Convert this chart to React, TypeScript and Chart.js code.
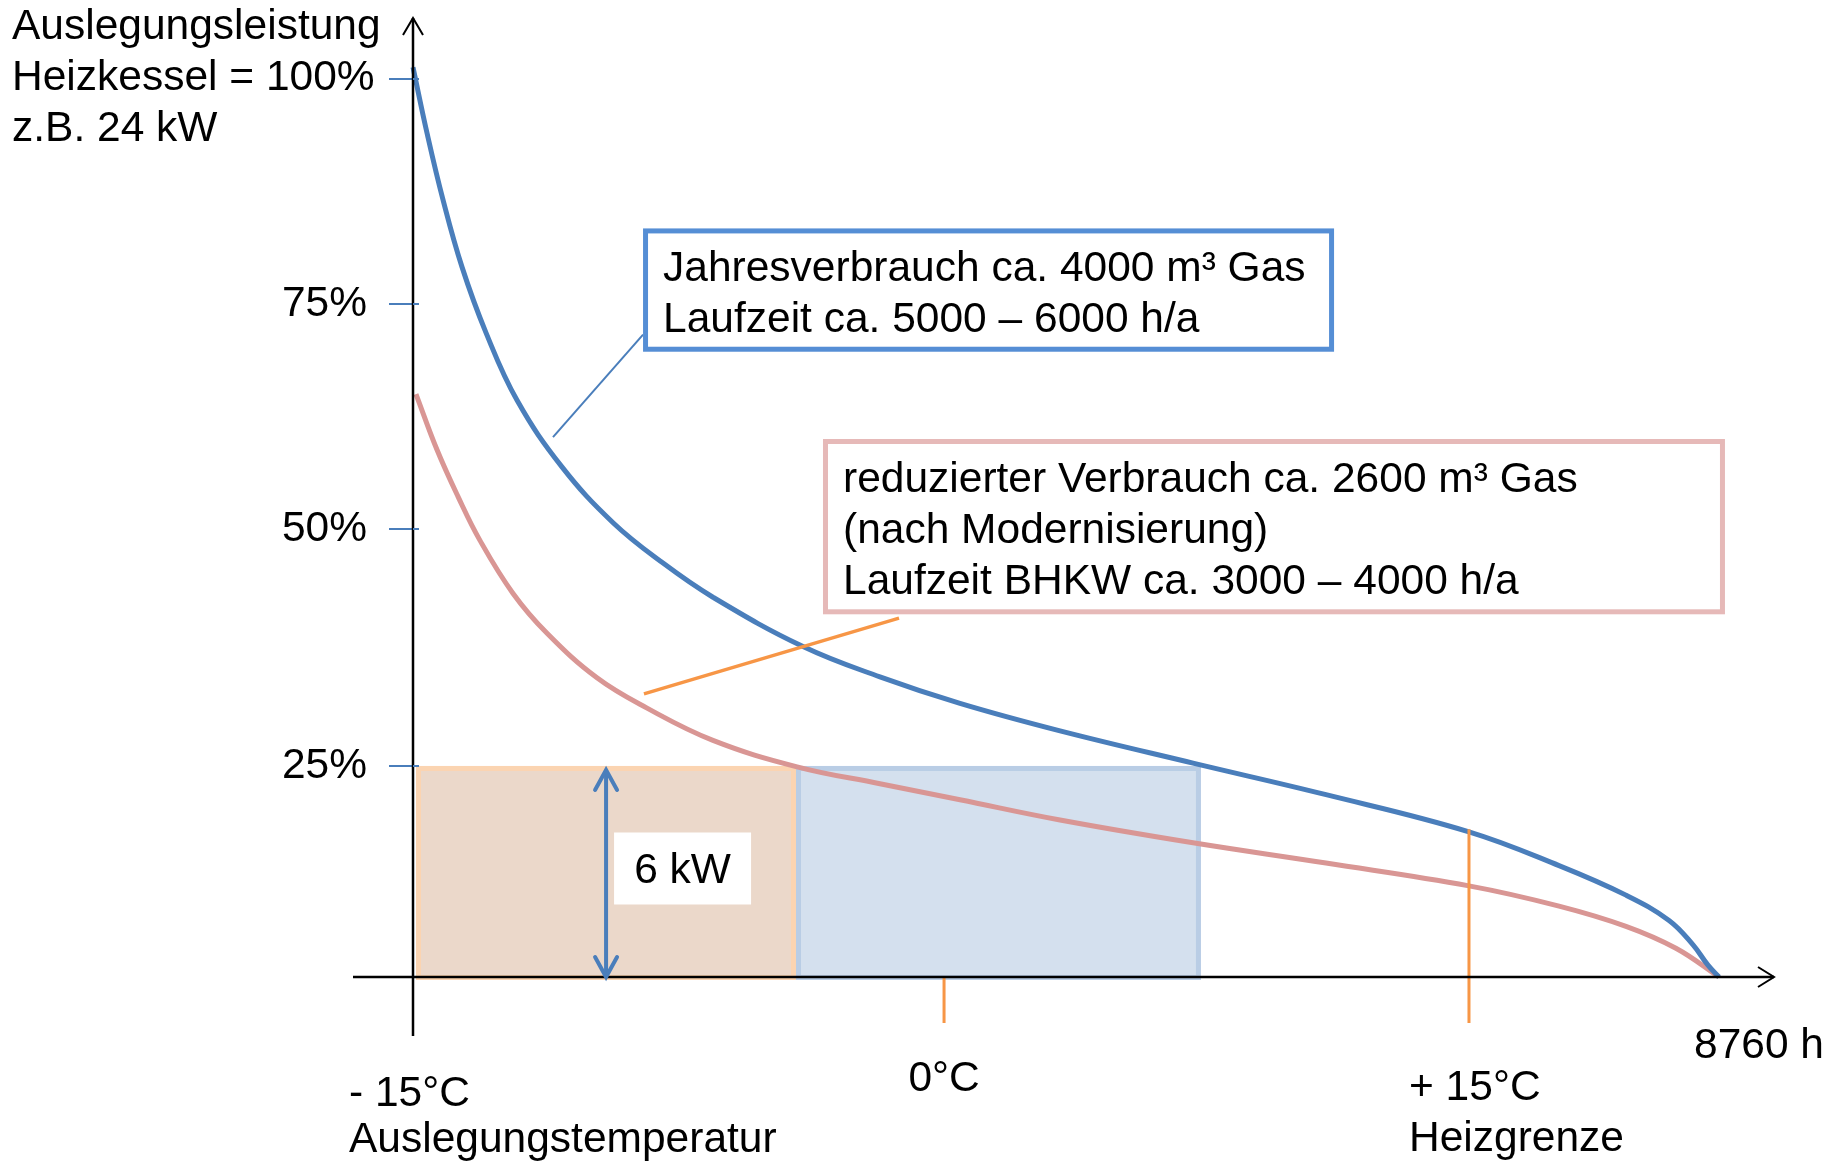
import React, { useEffect, useRef } from 'react';
import { Chart, registerables, LinearScale } from 'chart.js';

// The hand-drawn original spaces its percentage ticks slightly unevenly;
// this scale places 0/25/50/75/100 % where the original does and is linear in between.
const KNEE_VALUES = [0, 25, 50, 75, 100];
const KNEE_POS = [0, 0.235, 0.4989, 0.7494, 1];

class KneeScale extends LinearScale {
  static id = 'knee';
  getPixelForValue(value: any) {
    if (value === null || value === undefined || isNaN(value)) return NaN;
    const v = Number(value);
    let i = 0;
    while (i < KNEE_VALUES.length - 2 && v > KNEE_VALUES[i + 1]) i++;
    const t = (v - KNEE_VALUES[i]) / (KNEE_VALUES[i + 1] - KNEE_VALUES[i]);
    const d = KNEE_POS[i] + t * (KNEE_POS[i + 1] - KNEE_POS[i]);
    return (this as any).getPixelForDecimal(d);
  }
}

Chart.register(...registerables, KneeScale as any);

const FONT = "'Liberation Sans', Arial, Helvetica, sans-serif";
const FS = 42.5;

// ---- data (hours of the year vs. share of design load in %) ----
const hoursBlue = [0, 94, 201, 329, 490, 698, 999, 1342, 1677, 2012, 2616, 3132, 3669, 4340, 5232, 6124, 7083, 7687, 8136, 8425, 8586, 8686, 8760];
const loadBlue = [101.3, 94.0, 86.6, 79.1, 71.8, 64.3, 56.9, 50.7, 46.4, 42.8, 37.6, 34.4, 31.6, 28.7, 25.3, 21.6, 17.2, 13.2, 9.7, 6.7, 3.8, 1.4, 0];

const hoursRed = [20, 161, 302, 449, 671, 899, 1234, 1570, 2012, 2576, 3132, 3669, 4340, 5232, 6124, 7083, 7687, 8136, 8471, 8760];
const loadRed = [65.0, 58.8, 53.6, 48.8, 43.2, 39.0, 34.3, 31.1, 27.7, 24.9, 22.9, 21.0, 18.6, 15.9, 13.5, 10.8, 8.4, 6.0, 3.4, 0];

const yTickValues = [0, 25, 50, 75, 100];
const yTickLabels = ['', '25%', '50%', '75%', ''];
const yAxisTitle = ['Auslegungsleistung', 'Heizkessel = 100%', 'z.B. 24 kW'];
const hoursPerYear = 8760;
const endLabel = '8760 h';

const tempHours = [0, 3562, 7083];
const tempLabels = [['- 15°C', 'Auslegungstemperatur'], ['0°C'], ['+ 15°C', 'Heizgrenze']];
const heizgrenzeTop = 17.5;

const bandFrom = [0, 2569];
const bandTo = [2569, 5285];
const bandLevel = [25, 25];
const bhkwArrowHour = 1295;
const bhkwLabel = '6 kW';

const calloutBlue = ['Jahresverbrauch ca. 4000 m³ Gas', 'Laufzeit ca. 5000 – 6000 h/a'];
const calloutRed = ['reduzierter Verbrauch ca. 2600 m³ Gas', '(nach Modernisierung)', 'Laufzeit BHKW ca. 3000 – 4000 h/a'];

// ---- layout / style (not data) ----
const BLUE = '#4A7EBB';
const RED = '#D99694';
const ORANGE = '#F79646';
const LAYOUT = {
  blueBox: { h0: 1543, p0: 83.4, h1: 6178, p1: 69.7 },
  redBox: { h0: 2750, p0: 60.0, h1: 8800, p1: 41.0 },
  blueLeader: [[939, 60.2], [1543, 71.6]],
  redLeader: [[1549, 32.6], [3260, 40.6]],
};
const BAND_STYLE = [
  { fill: '#EBD8CA', stroke: '#FBD4B1' },
  { fill: '#D4E0EE', stroke: '#B9CDE5' },
];

function openHead(ctx: CanvasRenderingContext2D, tx: number, ty: number, ux: number, uy: number, len: number, half: number) {
  const bx = tx - ux * len;
  const by = ty - uy * len;
  const nx = -uy;
  const ny = ux;
  ctx.beginPath();
  ctx.moveTo(bx + nx * half, by + ny * half);
  ctx.lineTo(tx, ty);
  ctx.lineTo(bx - nx * half, by - ny * half);
  ctx.stroke();
}

const overlay = {
  id: 'overlay',
  beforeDatasetsDraw(chart: any) {
    const { ctx } = chart;
    const x = chart.scales.x;
    const y = chart.scales.y;
    ctx.save();
    for (let i = bandFrom.length - 1; i >= 0; i--) {
      const st = BAND_STYLE[i];
      const l = x.getPixelForValue(bandFrom[i]) + (i === 0 ? 3 : 0);
      const r = x.getPixelForValue(bandTo[i]);
      const t = y.getPixelForValue(bandLevel[i]);
      const b = y.getPixelForValue(0) + 3;
      ctx.fillStyle = st.fill;
      ctx.fillRect(l, t, r - l, b - t);
      ctx.strokeStyle = st.stroke;
      ctx.lineWidth = 5;
      ctx.strokeRect(l + 2.5, t + 2.5, r - l - 5, b - t - 5);
    }
    ctx.restore();
  },
  afterDatasetsDraw(chart: any) {
    const { ctx, chartArea } = chart;
    const x = chart.scales.x;
    const y = chart.scales.y;
    const px = (h: number) => x.getPixelForValue(h);
    const py = (p: number) => y.getPixelForValue(p);
    const x0 = px(0);
    const y0 = py(0);
    ctx.save();
    ctx.lineCap = 'butt';

    // orange temperature markers
    ctx.strokeStyle = ORANGE;
    ctx.lineWidth = 3;
    ctx.beginPath();
    ctx.moveTo(px(tempHours[1]), y0);
    ctx.lineTo(px(tempHours[1]), y0 + 46);
    ctx.moveTo(px(tempHours[2]), py(heizgrenzeTop));
    ctx.lineTo(px(tempHours[2]), y0 + 46);
    ctx.stroke();

    // axes
    ctx.strokeStyle = '#000';
    ctx.lineWidth = 2.5;
    ctx.beginPath();
    ctx.moveTo(x0, chartArea.top - 61);
    ctx.lineTo(x0, y0 + 59);
    ctx.moveTo(x0 - 60, y0);
    ctx.lineTo(chartArea.right + 55, y0);
    ctx.stroke();
    ctx.lineWidth = 2;
    openHead(ctx, x0, chartArea.top - 61, 0, -1, 17, 10);
    openHead(ctx, chartArea.right + 55, y0, 1, 0, 16, 10);

    // small inner part of y ticks
    ctx.strokeStyle = BLUE;
    ctx.lineWidth = 2;
    ctx.beginPath();
    yTickValues.forEach((v) => {
      if (v === 0) return;
      ctx.moveTo(x0, py(v));
      ctx.lineTo(x0 + 6, py(v));
    });
    ctx.stroke();

    // leader lines
    ctx.strokeStyle = ORANGE;
    ctx.lineWidth = 3.5;
    ctx.beginPath();
    ctx.moveTo(px(LAYOUT.redLeader[0][0]), py(LAYOUT.redLeader[0][1]));
    ctx.lineTo(px(LAYOUT.redLeader[1][0]), py(LAYOUT.redLeader[1][1]));
    ctx.stroke();
    ctx.strokeStyle = BLUE;
    ctx.lineWidth = 2;
    ctx.beginPath();
    ctx.moveTo(px(LAYOUT.blueLeader[0][0]), py(LAYOUT.blueLeader[0][1]));
    ctx.lineTo(px(LAYOUT.blueLeader[1][0]), py(LAYOUT.blueLeader[1][1]));
    ctx.stroke();

    ctx.font = `${FS}px ${FONT}`;
    ctx.textBaseline = 'alphabetic';

    // callout boxes
    const box = (b: any, lines: string[], color: string) => {
      const l = px(b.h0);
      const r = px(b.h1);
      const t = py(b.p0);
      const bt = py(b.p1);
      ctx.fillStyle = '#fff';
      ctx.fillRect(l, t, r - l, bt - t);
      ctx.strokeStyle = color;
      ctx.lineWidth = 5;
      ctx.strokeRect(l + 2.5, t + 2.5, r - l - 5, bt - t - 5);
      ctx.fillStyle = '#000';
      ctx.textAlign = 'left';
      lines.forEach((s, i) => ctx.fillText(s, l + 20, t + 53 + i * 51));
    };
    box(LAYOUT.blueBox, calloutBlue, '#558ED5');
    box(LAYOUT.redBox, calloutRed, '#E6B9B8');

    // 6 kW double arrow
    const ax = px(bhkwArrowHour);
    const aTop = py(bandLevel[0]) + 4;
    ctx.strokeStyle = BLUE;
    ctx.lineWidth = 4;
    ctx.beginPath();
    ctx.moveTo(ax, aTop + 2);
    ctx.lineTo(ax, y0 - 2);
    ctx.stroke();
    ctx.lineCap = 'round';
    openHead(ctx, ax, aTop, 0, -1, 20, 11);
    openHead(ctx, ax, y0, 0, 1, 20, 11);
    ctx.lineCap = 'butt';
    const midY = py(bandLevel[0] / 2);
    ctx.fillStyle = '#fff';
    ctx.fillRect(ax + 8, midY - 39, 137, 72);
    ctx.fillStyle = '#000';
    ctx.textAlign = 'center';
    ctx.fillText(bhkwLabel, ax + 8 + 68.5, midY + 12);

    // y axis title block
    ctx.textAlign = 'left';
    yAxisTitle.forEach((s, i) => ctx.fillText(s, 12, 39 + i * 51));

    // temperature labels
    ctx.textAlign = 'left';
    ctx.fillText(tempLabels[0][0], px(tempHours[0]) - 64, y0 + 129);
    ctx.fillText(tempLabels[0][1], px(tempHours[0]) - 64, y0 + 175);
    ctx.textAlign = 'center';
    ctx.fillText(tempLabels[1][0], px(tempHours[1]), y0 + 114);
    ctx.textAlign = 'left';
    ctx.fillText(tempLabels[2][0], px(tempHours[2]) - 60, y0 + 123);
    ctx.fillText(tempLabels[2][1], px(tempHours[2]) - 60, y0 + 174);
    ctx.fillText(endLabel, px(hoursPerYear) - 25, y0 + 81);

    ctx.restore();
  },
};

export default function App() {
  const ref = useRef<HTMLCanvasElement>(null);
  useEffect(() => {
    const canvas = ref.current;
    if (!canvas) return;
    const blue = hoursBlue.map((h, i) => ({ x: h, y: loadBlue[i] }));
    const red = hoursRed.map((h, i) => ({ x: h, y: loadRed[i] }));
    const chart = new Chart(canvas, {
      type: 'line',
      data: {
        datasets: [
          { data: blue, borderColor: BLUE, borderWidth: 5, pointRadius: 0, tension: 0.4, fill: false, clip: false } as any,
          { data: red, borderColor: RED, borderWidth: 5, pointRadius: 0, tension: 0.4, fill: false, clip: false } as any,
        ],
      },
      options: {
        animation: false,
        responsive: false,
        devicePixelRatio: 1,
        layout: { padding: { left: 0, top: 79, right: 107, bottom: 190 } },
        plugins: { legend: { display: false }, tooltip: { enabled: false }, title: { display: false } },
        scales: {
          x: { type: 'linear', min: 0, max: hoursPerYear, display: false },
          y: {
            type: 'knee',
            min: 0,
            max: 100,
            afterFit: (s: any) => { s.width = 413; },
            border: { display: false },
            grid: {
              drawOnChartArea: false,
              drawTicks: true,
              tickLength: 24,
              lineWidth: 2,
              color: (c: any) => (c.tick && c.tick.value === 0 ? 'rgba(0,0,0,0)' : BLUE),
            },
            ticks: {
              stepSize: 25,
              padding: 22,
              color: '#000',
              font: { family: FONT, size: FS },
              callback: (v: any) => {
                const i = yTickValues.indexOf(Number(v));
                return i >= 0 ? yTickLabels[i] : '';
              },
            },
          },
        },
      } as any,
      plugins: [overlay],
    });
    return () => chart.destroy();
  }, []);
  return (
    <canvas
      ref={ref}
      width={1826}
      height={1167}
      style={{ position: 'fixed', left: 0, top: 0, width: 1826, height: 1167, display: 'block' }}
    />
  );
}
